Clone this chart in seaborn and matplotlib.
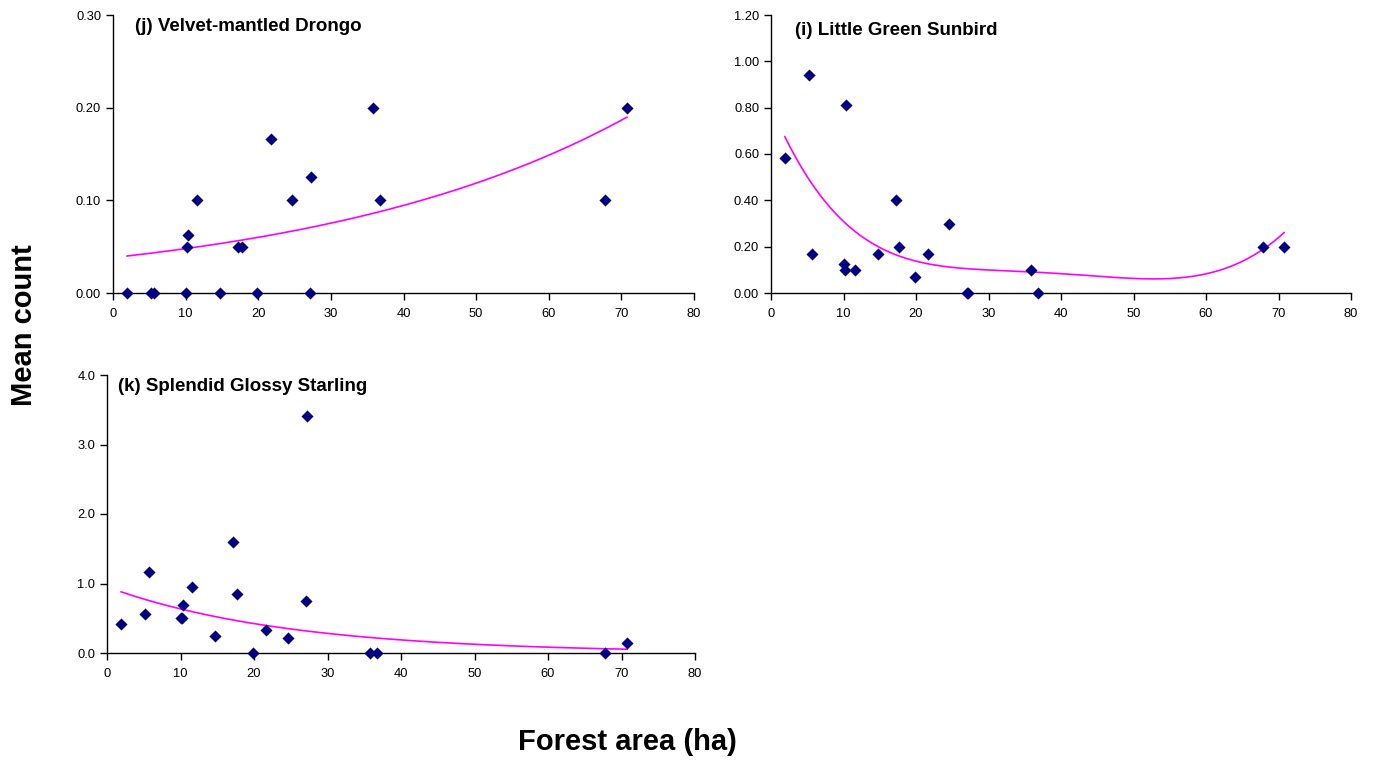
import numpy as np
import pandas as pd
import matplotlib
matplotlib.use("Agg")
import matplotlib.pyplot as plt
import seaborn as sns
from matplotlib.ticker import MultipleLocator, FormatStrFormatter
from numpy.polynomial import Polynomial

# Forest fragment sizes (ha) and mean bird counts per fragment
forest_area = [1.9, 5.2, 5.7, 10.0, 10.2, 10.3, 11.6, 14.7, 17.2, 17.7,
               19.8, 21.7, 24.6, 27.1, 27.2, 35.8, 36.8, 67.8, 70.8]
drongo = [0, 0, 0, 0, 0.05, 0.0625, 0.10, 0, 0.05, 0.05,
          0, 0.1667, 0.10, 0, 0.125, 0.20, 0.10, 0.10, 0.20]
sunbird = [0.583, 0.94, 0.167, 0.125, 0.10, 0.81, 0.10, 0.167, 0.40, 0.20,
           0.071, 0.167, 0.30, 0, 0, 0.10, 0, 0.20, 0.20]
starling = [0.42, 0.56, 1.16, 0.50, 0.50, 0.69, 0.95, 0.25, 1.60, 0.85,
            0, 0.33, 0.21, 0.75, 3.41, 0, 0, 0, 0.15]

# Trend models: exponential y = a * exp(b * area) for drongo and starling
drongo_trend = (0.0382, 0.02265)
starling_trend = (0.951, -0.0405)
# Sunbird trend: polynomial through these fitted-curve values
sunbird_trend_area = [1.9, 5.0, 10, 15, 20, 25, 30, 35, 40, 45, 50, 55, 60, 65, 67.8, 70.8]
sunbird_trend_count = [0.675, 0.504, 0.304, 0.200, 0.139, 0.110, 0.097, 0.091,
                       0.084, 0.075, 0.065, 0.059, 0.080, 0.142, 0.185, 0.261]

titles = ["(j) Velvet-mantled Drongo", "(i) Little Green Sunbird",
          "(k) Splendid Glossy Starling"]
y_max = [0.30, 1.20, 4.0]
y_step = [0.10, 0.20, 1.0]
y_fmt = ["%.2f", "%.2f", "%.1f"]

W, H = 1378, 765

sns.set_theme(style="white")
plt.rcParams["font.family"] = ["Liberation Sans", "DejaVu Sans"]

fig = plt.figure(figsize=(W / 100, H / 100), dpi=100)
fig.patch.set_facecolor("white")


def px_axes(left, right, top, bottom):
    return fig.add_axes([left / W, 1 - bottom / H, (right - left) / W, (bottom - top) / H])


boxes = [(113, 694, 15, 293), (771, 1351, 15, 293), (107, 695, 375, 653)]
series = [drongo, sunbird, starling]
title_pos = [(0.038, 0.957), (0.041, 0.946), (0.019, 0.957)]

grid = np.linspace(min(forest_area), max(forest_area), 300)
sunbird_poly = Polynomial.fit(sunbird_trend_area, sunbird_trend_count, 6)
trends = [
    drongo_trend[0] * np.exp(drongo_trend[1] * grid),
    sunbird_poly(grid),
    starling_trend[0] * np.exp(starling_trend[1] * grid),
]

for i, (box, values) in enumerate(zip(boxes, series)):
    ax = px_axes(*box)
    df = pd.DataFrame({"area": forest_area, "count": values})

    sns.lineplot(x=grid, y=trends[i], ax=ax, color="#FF00FF", linewidth=1.2,
                 estimator=None, sort=False)
    sns.scatterplot(data=df, x="area", y="count", ax=ax, marker="D", s=38,
                    color="#000080", edgecolor="#000080", linewidth=0,
                    clip_on=False, zorder=5)

    ax.set_xlim(0, 80)
    ax.set_ylim(0, y_max[i])
    ax.xaxis.set_major_locator(MultipleLocator(10))
    ax.yaxis.set_major_locator(MultipleLocator(y_step[i]))
    ax.yaxis.set_major_formatter(FormatStrFormatter(y_fmt[i]))
    ax.set_xlabel("")
    ax.set_ylabel("")
    for side in ("top", "right"):
        ax.spines[side].set_visible(False)
    for side in ("left", "bottom"):
        ax.spines[side].set_color("black")
        ax.spines[side].set_linewidth(1.0)
    ax.tick_params(axis="both", which="major", direction="out", length=5,
                   width=1.0, color="black", labelsize=9.3, labelcolor="black",
                   left=True, bottom=True)
    ax.tick_params(axis="x", pad=5.5)
    ax.tick_params(axis="y", pad=3.5)
    ax.set_facecolor("white")
    ax.text(title_pos[i][0], title_pos[i][1], titles[i], transform=ax.transAxes,
            fontsize=13.5, fontweight="bold", ha="left", va="center", color="black")

fig.text(24 / W, 1 - 325 / H, "Mean count", rotation=90, fontsize=21,
         fontweight="bold", ha="center", va="center", color="black")
fig.text(627 / W, 1 - 742 / H, "Forest area (ha)", fontsize=21,
         fontweight="bold", ha="center", va="center", color="black")

fig.savefig("out.png", dpi=100, facecolor="white")
